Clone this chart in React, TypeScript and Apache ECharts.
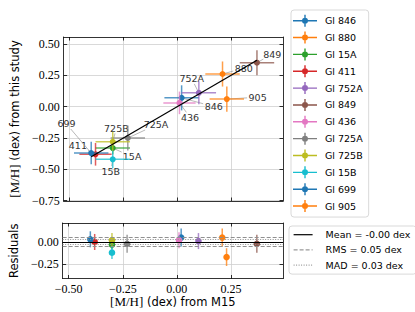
import React, { useEffect, useRef } from "react";
import * as echarts from "echarts";

// ---- data ----
const stars = ["Gl 846", "Gl 880", "Gl 15A", "Gl 411", "Gl 752A", "Gl 849", "Gl 436", "Gl 725A", "Gl 725B", "Gl 15B", "Gl 699", "Gl 905"];
const shortLabels = ["846", "880", "15A", "411", "752A", "849", "436", "725A", "725B", "15B", "699", "905"];
const colors = ["#1f77b4", "#ff7f0e", "#2ca02c", "#d62728", "#9467bd", "#8c564b", "#e377c2", "#7f7f7f", "#bcbd22", "#17becf", "#1f77b4", "#ff7f0e"];
const mhM15 = [0.02, 0.21, -0.30, -0.38, 0.10, 0.37, 0.01, -0.23, -0.30, -0.30, -0.40, 0.23];
const mhStudy = [0.07, 0.26, -0.33, -0.38, 0.11, 0.35, 0.03, -0.25, -0.28, -0.42, -0.37, 0.06];
const errM15 = [0.08, 0.08, 0.08, 0.075, 0.08, 0.08, 0.075, 0.08, 0.08, 0.08, 0.08, 0.08];
const errStudy = [0.10, 0.10, 0.05, 0.09, 0.09, 0.10, 0.09, 0.10, 0.08, 0.07, 0.09, 0.10];
// annotation anchor positions (data units)
const annotX = [0.169, 0.309, -0.21, -0.462, 0.067, 0.441, 0.059, -0.099, -0.283, -0.309, -0.515, 0.373];
const annotY = [0.0, 0.307, -0.40, -0.311, 0.221, 0.419, -0.085, -0.146, -0.173, -0.514, -0.138, 0.075];
const xTicks = [-0.5, -0.25, 0, 0.25];
const yTicksTop = [-0.75, -0.5, -0.25, 0, 0.25, 0.5];
const yTicksBottom = [-0.25, 0];
const statNames = ["Mean = -0.00 dex", "RMS = 0.05 dex", "MAD = 0.03 dex"];
const statMean = -0.0;
const statRms = 0.05;
const statMad = 0.03;

const X_MIN = -0.528, X_MAX = 0.491;
const Y_MIN = -0.752, Y_MAX = 0.555;
const R_MIN = -0.41, R_MAX = 0.213;

const fmt = (v: number) => {
  const s = Math.abs(v).toFixed(2);
  return v < -1e-9 ? "\u2212" + s : s;
};

const SERIF = "Liberation Serif";
const SANS = "DejaVu Sans";
const GRID_COLOR = "#cfcfcf";

const ICON = "path://M0,5.3H24V6.7H0Z M11.3,0H12.7V12H11.3Z M15,6A3,3,0,1,1,9,6A3,3,0,1,1,15,6Z";

const statStyles = [
  { color: "#000", width: 1.2, type: "solid" as any },
  { color: "#808080", width: 1, type: [4, 2] as any },
  { color: "#808080", width: 1, type: [1, 1.5] as any },
];

function errRender(color: string, showX: boolean, r: number) {
  return (params: any, api: any) => {
    const x = api.value(0), y = api.value(1), xe = api.value(2), ye = api.value(3);
    const c = api.coord([x, y]);
    const children: any[] = [];
    if (showX && xe > 0) {
      const l = api.coord([x - xe, y]);
      const rr = api.coord([x + xe, y]);
      children.push({ type: "line", shape: { x1: l[0], y1: l[1], x2: rr[0], y2: rr[1] }, style: { stroke: color, lineWidth: 1.5, opacity: 0.75 } });
    }
    const t = api.coord([x, y + ye]);
    const b = api.coord([x, y - ye]);
    children.push({ type: "line", shape: { x1: t[0], y1: t[1], x2: b[0], y2: b[1] }, style: { stroke: color, lineWidth: 1.5, opacity: 0.75 } });
    children.push({ type: "circle", shape: { cx: c[0], cy: c[1], r }, style: { fill: color } });
    return { type: "group", children };
  };
}

export default function App() {
  const ref = useRef<HTMLDivElement>(null);
  useEffect(() => {
    if (!ref.current) return;
    const chart = echarts.init(ref.current, undefined, { renderer: "svg" });

    const tickCommon = (customValues: number[]) => ({
      show: true,
      inside: true,
      length: 3.5,
      customValues,
      lineStyle: { color: "#000", width: 0.8 },
    });
    const axisLineCommon = { show: true, onZero: false, lineStyle: { color: "#000", width: 0.8 } };
    const labelStyle = { fontFamily: SERIF, fontSize: 12, color: "#000" };

    const minX = Math.min(...mhM15);
    const maxX = Math.max(...mhM15);

    const series: any[] = [];
    // annotations
    series.push({
      type: "custom",
      name: "annot",
      xAxisIndex: 0,
      yAxisIndex: 0,
      z: 1,
      silent: true,
      data: annotX.map((ax, i) => [ax, annotY[i], mhM15[i], mhStudy[i]]),
      encode: { x: 0, y: 1 },
      renderItem: (params: any, api: any) => {
        const i = params.dataIndex;
        const L = api.coord([api.value(0), api.value(1)]);
        const P = api.coord([api.value(2), api.value(3)]);
        const txt = shortLabels[i];
        const hw = txt.length * 3 + 1.5, hh = 5;
        const dx = P[0] - L[0], dy = P[1] - L[1];
        const t = Math.min(dx ? hw / Math.abs(dx) : Infinity, dy ? hh / Math.abs(dy) : Infinity);
        const sx = L[0] + dx * t, sy = L[1] + dy * t;
        return {
          type: "group",
          children: [
            { type: "line", shape: { x1: sx, y1: sy, x2: P[0], y2: P[1] }, style: { stroke: "#9a9a9a", lineWidth: 0.7 } },
            { type: "text", x: L[0], y: L[1], style: { text: txt, fill: "#333", fontSize: 9.5, fontFamily: SANS, align: "center", verticalAlign: "middle" } },
          ],
        };
      },
    });
    // errorbar points, top and residuals
    stars.forEach((name, i) => {
      series.push({
        type: "custom",
        name,
        xAxisIndex: 0,
        yAxisIndex: 0,
        z: 2,
        data: [[mhM15[i], mhStudy[i], errM15[i], errStudy[i]]],
        encode: { x: 0, y: 1 },
        renderItem: errRender(colors[i], true, 3),
      });
      series.push({
        type: "custom",
        name,
        xAxisIndex: 2,
        yAxisIndex: 2,
        z: 2,
        data: [[mhM15[i], mhStudy[i] - mhM15[i], 0, errStudy[i]]],
        encode: { x: 0, y: 1 },
        renderItem: errRender(colors[i], false, 3.3),
      });
    });
    // one-to-one line
    series.push({
      type: "line",
      name: "one2one",
      xAxisIndex: 0,
      yAxisIndex: 0,
      z: 5,
      symbol: "none",
      silent: true,
      lineStyle: { color: "#000", width: 1.2 },
      data: [[minX, minX], [maxX, maxX]],
    });
    // statistic lines
    const statValues = [[statMean], [statRms, -statRms], [statMad, -statMad]];
    statNames.forEach((name, k) => {
      const st = statStyles[k];
      series.push({
        type: "line",
        name,
        xAxisIndex: 2,
        yAxisIndex: 2,
        symbol: "none",
        color: st.color,
        itemStyle: { color: st.color },
        data: [],
        z: 1,
        lineStyle: { color: st.color, width: st.width, type: st.type },
        markLine: {
          silent: true,
          symbol: "none",
          label: { show: false },
          lineStyle: { color: k === 0 ? st.color : "#909090", width: st.width, type: st.type },
          data: statValues[k].map((v) => ({ yAxis: v })),
        },
      });
    });

    const nameRich = {
      s: { fontFamily: SERIF, fontSize: 13, color: "#000" },
      t: { fontFamily: SANS, fontSize: 11.5, color: "#000" },
    };

    chart.setOption({
      animation: false,
      grid: [
        { left: 52, top: 37, width: 231, height: 164 },
        { left: 52, top: 223, width: 231, height: 55.5 },
      ],
      xAxis: [
        {
          type: "value", gridIndex: 0, position: "bottom", min: X_MIN, max: X_MAX,
          axisLine: axisLineCommon, axisTick: tickCommon(xTicks), axisLabel: { show: false, customValues: xTicks },
          splitLine: { show: true, lineStyle: { color: GRID_COLOR, width: 0.8 } },
        },
        {
          type: "value", gridIndex: 0, position: "top", min: X_MIN, max: X_MAX,
          axisLine: axisLineCommon, axisTick: tickCommon(xTicks), axisLabel: { show: false, customValues: xTicks },
          splitLine: { show: false },
        },
        {
          type: "value", gridIndex: 1, position: "bottom", min: X_MIN, max: X_MAX,
          axisLine: axisLineCommon, axisTick: tickCommon(xTicks),
          axisLabel: { show: true, customValues: xTicks, formatter: (v: number) => fmt(v), margin: 4, ...labelStyle },
          splitLine: { show: true, lineStyle: { color: GRID_COLOR, width: 0.8 } },
          name: "{s|[M/H]}{t| (dex) from M15}",
          nameLocation: "middle",
          nameGap: 15,
          nameTextStyle: { rich: nameRich, verticalAlign: "top" },
        },
        {
          type: "value", gridIndex: 1, position: "top", min: X_MIN, max: X_MAX,
          axisLine: axisLineCommon, axisTick: tickCommon(xTicks), axisLabel: { show: false, customValues: xTicks },
          splitLine: { show: false },
        },
      ],
      yAxis: [
        {
          type: "value", gridIndex: 0, position: "left", min: Y_MIN, max: Y_MAX,
          axisLine: axisLineCommon, axisTick: tickCommon(yTicksTop),
          axisLabel: { show: true, customValues: yTicksTop, formatter: (v: number) => fmt(v), margin: 4, ...labelStyle },
          splitLine: { show: true, lineStyle: { color: GRID_COLOR, width: 0.8 } },
          name: "{s|[M/H]}{t| (dex) from this study}",
          nameLocation: "middle",
          nameRotate: 90,
          nameGap: 41,
          nameTextStyle: { rich: nameRich },
        },
        {
          type: "value", gridIndex: 0, position: "right", min: Y_MIN, max: Y_MAX,
          axisLine: axisLineCommon, axisTick: tickCommon(yTicksTop), axisLabel: { show: false, customValues: yTicksTop },
          splitLine: { show: false },
        },
        {
          type: "value", gridIndex: 1, position: "left", min: R_MIN, max: R_MAX,
          axisLine: axisLineCommon, axisTick: tickCommon(yTicksBottom),
          axisLabel: { show: true, customValues: yTicksBottom, formatter: (v: number) => fmt(v), margin: 4, ...labelStyle },
          splitLine: { show: true, lineStyle: { color: GRID_COLOR, width: 0.8 } },
          name: "Residuals",
          nameLocation: "middle",
          nameRotate: 90,
          nameGap: 41,
          nameTextStyle: { fontFamily: SANS, fontSize: 11.5, color: "#000" },
        },
        {
          type: "value", gridIndex: 1, position: "right", min: R_MIN, max: R_MAX,
          axisLine: axisLineCommon, axisTick: tickCommon(yTicksBottom), axisLabel: { show: false, customValues: yTicksBottom },
          splitLine: { show: false },
        },
      ],
      legend: [
        {
          orient: "vertical",
          left: 291,
          top: 10,
          itemWidth: 24,
          itemHeight: 12,
          itemGap: 4.85,
          padding: [4.7, 6, 5, 2],
          borderColor: "#d9d9d9",
          borderWidth: 1,
          borderRadius: 3,
          backgroundColor: "#fff",
          selectedMode: false,
          textStyle: { fontFamily: SANS, fontSize: 9.5, color: "#000", padding: [0, 0, 0, 3] },
          data: stars.map((s, i) => ({ name: s, icon: ICON, itemStyle: { color: colors[i] } })),
        },
        {
          orient: "vertical",
          left: 289,
          top: 226,
          itemWidth: 19,
          itemHeight: 12,
          itemGap: 5.2,
          padding: [3.7, 6, 4, 4],
          borderColor: "#d9d9d9",
          borderWidth: 1,
          borderRadius: 3,
          backgroundColor: "#fff",
          selectedMode: false,
          textStyle: { fontFamily: SANS, fontSize: 9.5, color: "#000", padding: [0, 0, 0, 8] },
          data: statNames.map((n, k) => ({
            name: n,
            itemStyle: { opacity: 0 },
            lineStyle: { color: statStyles[k].color, width: statStyles[k].width, type: statStyles[k].type },
          })),
        },
      ],
      series,
    });
    return () => chart.dispose();
  }, []);
  return <div ref={ref} style={{ position: "absolute", left: 0, top: 0, width: 415, height: 312 }} />;
}
